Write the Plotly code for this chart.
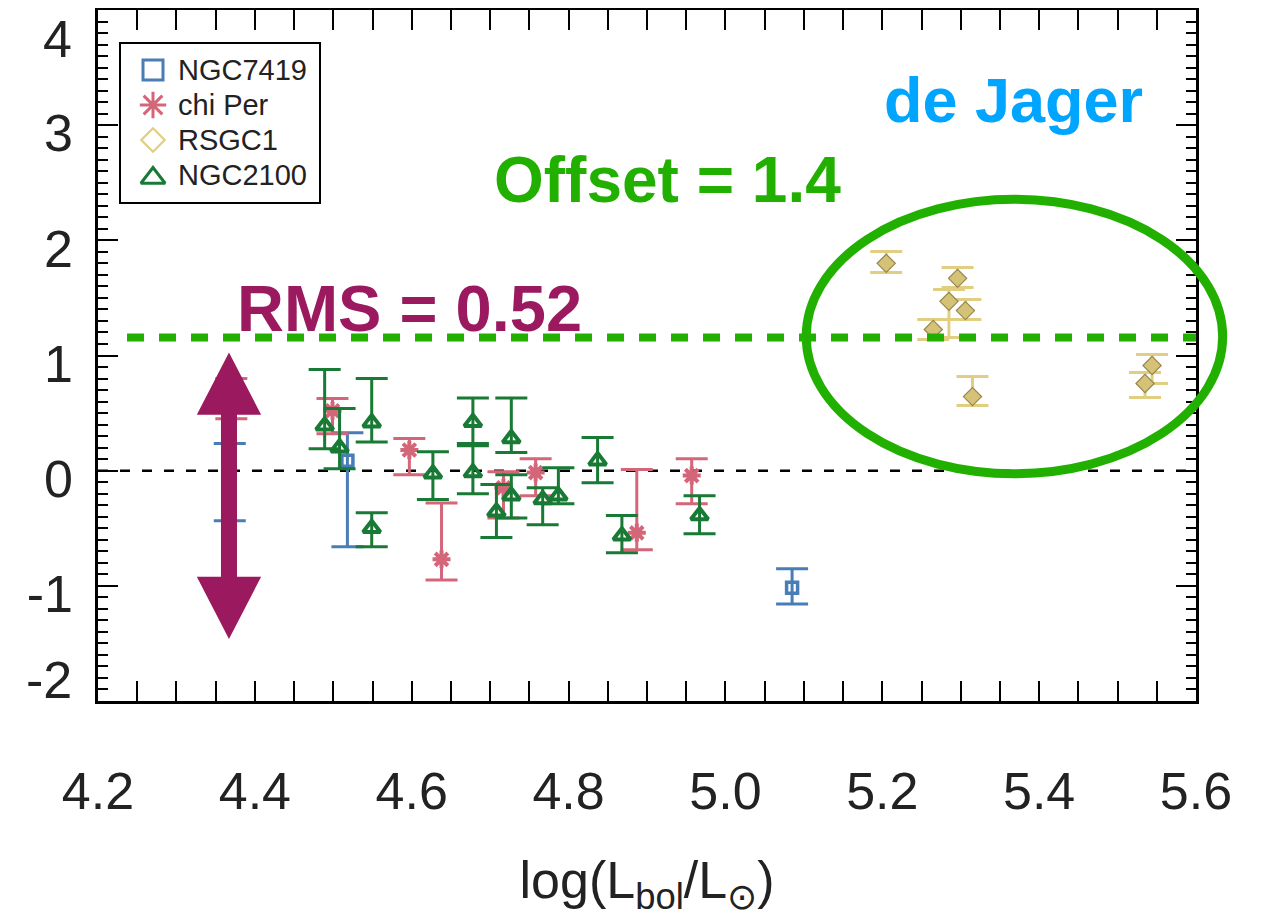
import plotly.graph_objects as go

# ---------------- data ----------------
ngc7419_x = [4.368, 4.518, 5.085]
ngc7419_y = [0.000, 0.087, -1.017]
ngc7419_ep = [0.235, 0.243, 0.165]
ngc7419_em = [0.435, 0.747, 0.140]

chiper_x = [4.370, 4.499, 4.597, 4.638, 4.717, 4.758, 4.887, 4.957]
chiper_y = [0.625, 0.520, 0.180, -0.770, -0.148, -0.017, -0.540, -0.043]
chiper_ep = [0.175, 0.106, 0.100, 0.490, 0.139, 0.121, 0.550, 0.147]
chiper_em = [0.175, 0.200, 0.215, 0.180, 0.262, 0.200, 0.147, 0.244]

rsgc1_x = [5.205, 5.296, 5.285, 5.306, 5.265, 5.315, 5.544, 5.535]
rsgc1_y = [1.800, 1.670, 1.470, 1.390, 1.226, 0.643, 0.913, 0.757]
rsgc1_ep = [0.104, 0.095, 0.104, 0.097, 0.087, 0.174, 0.096, 0.095]
rsgc1_em = [0.080, 0.080, 0.313, 0.077, 0.087, 0.078, 0.156, 0.122]

ngc2100_x = [4.489, 4.508, 4.549, 4.549, 4.627, 4.678, 4.678, 4.727,
             4.708, 4.727, 4.767, 4.787, 4.837, 4.868, 4.967]
ngc2100_y = [0.390, 0.200, 0.417, -0.500, -0.026, 0.420, -0.017, 0.280,
             -0.356, -0.217, -0.250, -0.217, 0.087, -0.565, -0.390]
ngc2100_ep = [0.488, 0.340, 0.383, 0.135, 0.191, 0.210, 0.234, 0.350,
              0.236, 0.182, 0.102, 0.243, 0.200, 0.175, 0.173]
ngc2100_em = [0.200, 0.183, 0.167, 0.160, 0.224, 0.185, 0.183, 0.123,
              0.224, 0.193, 0.220, 0.070, 0.191, 0.148, 0.158]

y_tickvals = [-2, -1, 0, 1, 2, 3, 4]
y_ticktext = ["-2", "-1", "0", "1", "2", "3", "4"]

legend_names = ["NGC7419", "chi Per", "RSGC1", "NGC2100"]

offset_level = 1.157
rms_text = "RMS = 0.52"
offset_text = "Offset = 1.4"
model_text = "de Jager"

X_RANGE = [4.2, 5.6]
Y_RANGE = [-2, 4]

# ---------------- styles ----------------
BLUE = "rgb(72,125,182)"
RED = "rgb(212,102,122)"
YEL = "rgb(226,206,128)"
YEL_FILL = "rgb(214,194,118)"
GREEN = "rgb(24,122,52)"
LIME = "rgb(34,176,0)"
PURPLE = "rgb(155,25,95)"
SKY = "rgb(0,165,255)"
TXT = "#222"
FONT = "Liberation Sans, Arial, sans-serif"

PLOT_H = 691  # plot area height in px
LABEL_DROP = 8  # reference labels sit 8 px below their ticks

fig = go.Figure()


def err(ep, em, color):
    return dict(type="data", symmetric=False, array=ep, arrayminus=em,
                color=color, thickness=3, width=16)


fig.add_trace(go.Scatter(
    x=ngc7419_x, y=ngc7419_y, mode="markers", name="NGC7419",
    marker=dict(symbol="square-open", size=11, color=BLUE, line=dict(width=3.5, color=BLUE)),
    error_y=err(ngc7419_ep, ngc7419_em, BLUE)))
fig.add_trace(go.Scatter(
    x=chiper_x, y=chiper_y, mode="markers", name="chi Per",
    marker=dict(symbol="asterisk-open", size=15, color=RED, line=dict(width=4, color=RED)),
    error_y=err(chiper_ep, chiper_em, RED)))
fig.add_trace(go.Scatter(
    x=rsgc1_x, y=rsgc1_y, mode="markers", name="RSGC1",
    marker=dict(symbol="diamond", size=14, color=YEL_FILL,
                line=dict(width=1.2, color="rgb(150,135,80)")),
    error_y=err(rsgc1_ep, rsgc1_em, YEL)))
fig.add_trace(go.Scatter(
    x=ngc2100_x, y=ngc2100_y, mode="markers", name="NGC2100",
    marker=dict(symbol="triangle-up-open", size=15, color=GREEN, line=dict(width=4, color=GREEN)),
    error_y=err(ngc2100_ep, ngc2100_em, GREEN)))

# invisible trace that carries the y tick-label axis (y3)
fig.add_trace(go.Scatter(x=[None], y=[None], yaxis="y3", mode="markers", hoverinfo="skip"))

# ---------------- hand-made legend on a pixel overlay axis ----------------
PX_X = [98, 1196]      # window pixels of the plot area
PX_Y = [701, 10]
leg_syms = [("square-open", 20, 3, BLUE), ("asterisk-open", 22, 3, RED),
            ("diamond-open", 18, 2.2, YEL), ("triangle-up-open", 21, 3, GREEN)]
leg_rows = [70, 105, 140, 175]
fig.add_shape(type="rect", xref="x2", yref="y2", x0=120, x1=320, y0=43, y1=203,
              line=dict(color="black", width=2), fillcolor="white", layer="below")
for name, (sym, size, lw, col), row in zip(legend_names, leg_syms, leg_rows):
    fig.add_trace(go.Scatter(x=[153], y=[row + (3 if sym.startswith("triangle") else 0)],
                             xaxis="x2", yaxis="y2", mode="markers", hoverinfo="skip",
                             marker=dict(symbol=sym, size=size, color=col,
                                         line=dict(width=lw, color=col))))
    fig.add_annotation(x=176, y=row, xref="x2", yref="y2", text=name, showarrow=False,
                       xanchor="left", yanchor="middle",
                       font=dict(family=FONT, size=29, color=TXT))

# zero reference line (below data)
fig.add_shape(type="line", xref="x", yref="y", x0=X_RANGE[0], x1=X_RANGE[1], y0=0, y1=0,
              line=dict(color="black", width=2.5, dash="10px,12px"), layer="below")
# offset line
fig.add_shape(type="line", xref="x", yref="y", x0=4.237, x1=X_RANGE[1],
              y0=offset_level, y1=offset_level,
              line=dict(color=LIME, width=8, dash="17px,15px"), layer="above")


# ellipse (extends slightly past the right axis -> paper coordinates)
def px(v):
    return (v - X_RANGE[0]) / (X_RANGE[1] - X_RANGE[0])


def py(v):
    return (v - Y_RANGE[0]) / (Y_RANGE[1] - Y_RANGE[0])


fig.add_shape(type="circle", xref="paper", yref="paper",
              x0=px(5.103), x1=px(5.634), y0=py(-0.026), y1=py(2.356),
              line=dict(color=LIME, width=9), layer="above")

# double-headed arrow
ax_c, sh, hh = 4.367, 0.0102, 0.041
yt, yb, hl = 1.026, -1.461, 0.54
path = (f"M {ax_c},{yt} L {ax_c+hh},{yt-hl} L {ax_c+sh},{yt-hl} L {ax_c+sh},{yb+hl} "
        f"L {ax_c+hh},{yb+hl} L {ax_c},{yb} L {ax_c-hh},{yb+hl} L {ax_c-sh},{yb+hl} "
        f"L {ax_c-sh},{yt-hl} L {ax_c-hh},{yt-hl} Z")
fig.add_shape(type="path", xref="x", yref="y", path=path,
              fillcolor=PURPLE, line=dict(width=0), layer="above")

fig.add_annotation(x=4.597, y=1.41, xref="x", yref="y", text=f"<b>{rms_text}</b>",
                   showarrow=False, font=dict(family=FONT, size=65, color=PURPLE))
fig.add_annotation(x=4.926, y=2.52, xref="x", yref="y", text=f"<b>{offset_text}</b>",
                   showarrow=False, font=dict(family=FONT, size=64, color=LIME))
fig.add_annotation(x=5.367, y=3.22, xref="x", yref="y", text=f"<b>{model_text}</b>",
                   showarrow=False, font=dict(family=FONT, size=63, color=SKY))

# y tick labels: the two end labels sit nudged inwards in the reference
edge_shift = {4: -29, -2: 21}
for v, t in zip(y_tickvals, y_ticktext):
    if v in edge_shift:
        fig.add_annotation(x=0, y=v, xref="paper", yref="y", text=t, showarrow=False,
                           xanchor="right", yanchor="middle", xshift=-24,
                           yshift=edge_shift[v],
                           font=dict(family=FONT, size=52, color=TXT))
mid_vals = [v for v in y_tickvals if v not in edge_shift]
mid_text = [t for v, t in zip(y_tickvals, y_ticktext) if v not in edge_shift]
drop = LABEL_DROP * (Y_RANGE[1] - Y_RANGE[0]) / PLOT_H

axis_common = dict(showline=True, linewidth=2.5, linecolor="black", mirror="allticks",
                   ticks="inside", ticklen=20, tickwidth=2, tickcolor="black",
                   showgrid=False, zeroline=False, automargin=False,
                   tickfont=dict(size=52, color=TXT, family=FONT))

fig.update_layout(
    xaxis=dict(range=X_RANGE, tickmode="linear", tick0=4.2, dtick=0.2, tickformat=".1f",
               minor=dict(ticks="inside", ticklen=10, tickwidth=2, tickcolor="black",
                          dtick=0.05, tick0=4.2, showgrid=False),
               ticklabelstandoff=43,
               title=dict(text="log(L<sub>bol</sub>/L<sub>⊙</sub>)", standoff=47,
                          font=dict(size=52, color=TXT, family=FONT)),
               **axis_common),
    yaxis=dict(range=Y_RANGE, tickmode="array", tickvals=y_tickvals,
               showticklabels=False,
               minor=dict(ticks="inside", ticklen=10, tickwidth=2, tickcolor="black",
                          dtick=0.1, tick0=0, showgrid=False),
               **axis_common),
    yaxis3=dict(range=[Y_RANGE[0] + drop, Y_RANGE[1] + drop], overlaying="y", side="left",
                anchor="x", tickmode="array", tickvals=mid_vals, ticktext=mid_text,
                ticks="", showline=False, showgrid=False, zeroline=False,
                automargin=False, ticklabelstandoff=24,
                tickfont=dict(size=52, color=TXT, family=FONT)),
    xaxis2=dict(range=PX_X, overlaying="x", visible=False, automargin=False),
    yaxis2=dict(range=PX_Y, overlaying="y", visible=False, automargin=False),
)

# the page body adds an 8px margin, so the figure is 8px smaller than the window
fig.update_layout(
    width=1259, height=909,
    margin=dict(l=90, r=71, t=2, b=216),
    plot_bgcolor="white", paper_bgcolor="white",
    font=dict(family=FONT, color=TXT),
    showlegend=False,
)

fig.write_html("out.html")
